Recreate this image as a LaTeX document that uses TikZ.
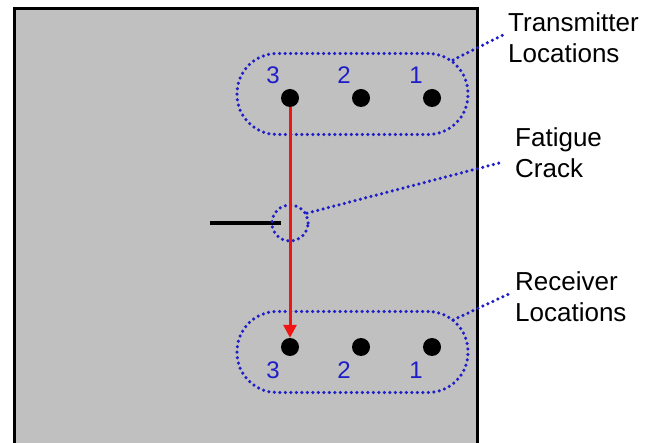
\documentclass[tikz,border=0pt]{standalone}
\usepackage{fontspec}
\setmainfont{Liberation Sans}
\usetikzlibrary{arrows.meta}
\definecolor{plate}{RGB}{192,192,192}
\definecolor{dotblue}{RGB}{30,30,200}
\definecolor{arrred}{RGB}{240,20,20}
\begin{document}
\begin{tikzpicture}[x=1pt,y=-1pt,
  sensor/.style={circle,fill=black,inner sep=0pt,minimum size=18pt},
  num/.style={text=dotblue,font=\fontsize{24}{28}\selectfont,inner sep=0pt,anchor=base},
  dotline/.style={draw=dotblue,line width=3.5pt,dash pattern=on 0pt off 5.5pt,line cap=round},
  group/.style={dotline,rounded corners=40pt,minimum width=231pt,minimum height=81pt,inner sep=0pt},
  lab/.style={font=\fontsize{26}{31.5}\selectfont,align=left,inner sep=0pt,anchor=base west}
]
\useasboundingbox (0,0) rectangle (658,443);
% plate
\fill[plate] (14,9) rectangle (477,443);
\draw[line width=3pt] (14,443) -- (14,9) -- (477,9) -- (477,443);

% transmitters
\node[sensor] (t3) at (290,98) {};
\node[sensor] (t2) at (361,98) {};
\node[sensor] (t1) at (432,98) {};
\node[num] (nt3) at (273,84) {3};
\node[num] (nt2) at (344,84) {2};
\node[num] (nt1) at (416,84) {1};
\node[group] (tbox) at (352.5,94) {};

% receivers
\node[sensor] (r3) at (290,347) {};
\node[sensor] (r2) at (361,347) {};
\node[sensor] (r1) at (432,347) {};
\node[num] (nr3) at (273,378) {3};
\node[num] (nr2) at (344,378) {2};
\node[num] (nr1) at (416,378) {1};
\node[group] (rbox) at (352.5,352) {};

% crack
\coordinate (cs) at (210,223);
\coordinate (ce) at (281,223);
\draw[line width=3.5pt] (cs) -- (ce);
\node[dotline,circle,minimum size=36pt,inner sep=0pt] (crack) at (290,223) {};

% path arrow
\draw[arrred,line width=3pt,-{Triangle[length=13pt,width=13pt]}] (t3.south) -- (r3.north);

% labels
\node[lab] (ltx) at (508,63) {Transmitter\\Locations};
\node[lab] (lcr) at (515,178) {Fatigue\\Crack};
\node[lab] (lrx) at (515,322) {Receiver\\Locations};

\coordinate (ta) at (453,60);
\coordinate (te) at (503,35);
\coordinate (ra) at (453,320);
\coordinate (re) at (511,293);
\coordinate (ce2) at (503,162);
\draw[dotline] (ta) -- (te);
\draw[dotline] (crack.30) -- (ce2);
\draw[dotline] (ra) -- (re);
\end{tikzpicture}
\end{document}
